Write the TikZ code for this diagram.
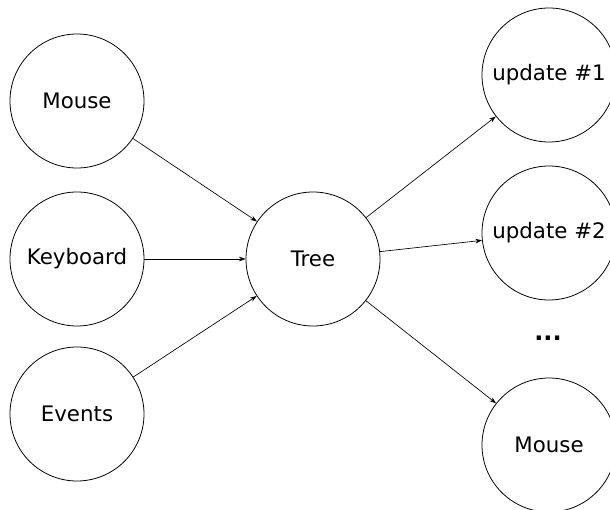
\documentclass[tikz,border=0pt]{standalone}
\usepackage{fontspec}
\setmainfont{DejaVu Sans}
\usetikzlibrary{arrows.meta}

\begin{document}
\begin{tikzpicture}[x=0.75pt, y=-0.75pt, font=\fontsize{16}{19}\selectfont,
  state/.style={circle, draw, line width=0.6pt, minimum size=100.5pt, inner sep=0pt},
  flow/.style={-{Stealth[length=5pt, width=3.5pt]}, line width=0.5pt}]
  % Frame of the picture (circles on the right are cut off)
  \useasboundingbox (0,0) rectangle (610,510);
  \clip (0,0) rectangle (610,510);

  % Input sources
  \node[state] (mouse) at (77,101) {Mouse};
  \node[state] (keyboard) at (77,259) {Keyboard};
  \node[state] (events) at (77,414) {Events};

  % Central tree
  \node[state] (tree) at (313,259) {Tree};

  % Resulting updates
  \node[state] (upd1) at (549,75) {update \#1};
  \node[state] (upd2) at (549,233) {update \#2};
  \node[font=\fontsize{18}{20}\selectfont\bfseries] (dots) at (548,338) {...};
  \node[state] (mouseout) at (549,445) {Mouse};

  % Connectors
  \draw[flow] (mouse) -- (tree);
  \draw[flow] (keyboard) -- (tree);
  \draw[flow] (events) -- (tree);
  \draw[flow] (tree) -- (upd1);
  \draw[flow] (tree) -- (upd2);
  \draw[flow] (tree) -- (mouseout);
\end{tikzpicture}
\end{document}
